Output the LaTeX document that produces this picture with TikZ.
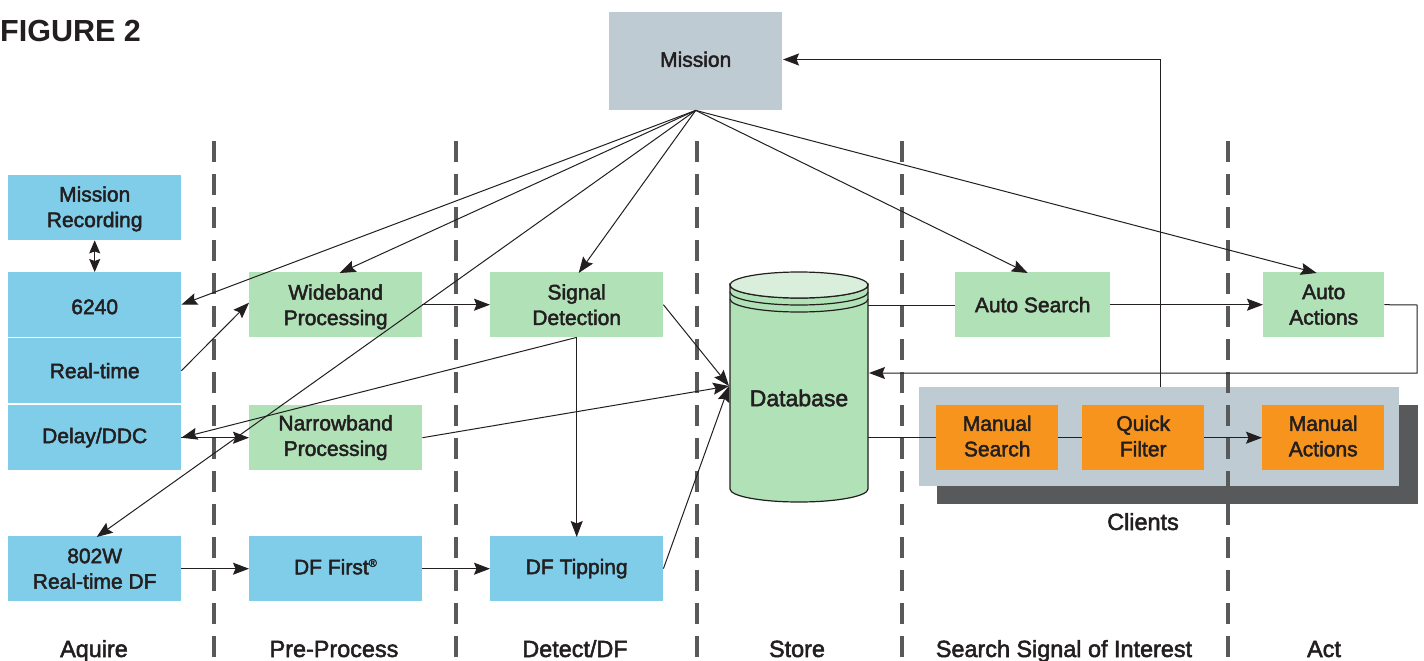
\documentclass[tikz,border=0pt]{standalone}
\usepackage{fontspec}
\setmainfont{Liberation Sans}[RawFeature={embolden=2.2}]
\newfontfamily\headfont{Liberation Sans Bold}
\usetikzlibrary{arrows.meta}
\definecolor{cblue}{HTML}{7FCDE9}
\definecolor{cgreen}{HTML}{B0E1B7}
\definecolor{cgreenl}{HTML}{D9EFDC}
\definecolor{corange}{HTML}{F7941D}
\definecolor{cgrey}{HTML}{BECBD3}
\definecolor{cdark}{HTML}{58595B}
\definecolor{cline}{HTML}{231F20}
\tikzset{
 x=1pt,y=-1pt,
 boxbase/.style={anchor=north west,inner sep=0pt,align=center,font=\fontsize{21}{25.5}\selectfont,text=cline},
 bluebox/.style={boxbase,fill=cblue},
 greenbox/.style={boxbase,fill=cgreen},
 orangebox/.style={boxbase,fill=corange,text depth=3.5pt},
 conn/.style={draw=cline,line width=1pt},
 arr/.style={conn,-{Stealth[length=16pt,width=12pt,inset=2.5pt]}},
 darr/.style={conn,{Stealth[length=13pt,width=11pt,inset=2pt]}-{Stealth[length=13pt,width=11pt,inset=2pt]}},
 divider/.style={draw=cdark,line width=4pt,dash pattern=on 21pt off 12pt},
 lab/.style={font=\fontsize{23.4}{27}\selectfont,text=cline,inner sep=0pt,anchor=base},
}
\begin{document}
\begin{tikzpicture}
\useasboundingbox (0,0) rectangle (1424,661);
\fill[white] (0,0) rectangle (1424,661);
\node[font=\headfont\fontsize{30.5}{33}\selectfont,anchor=west,inner sep=0pt,text=cline] (fig) at (0,31) {FIGURE 2};
% panels
\node[anchor=north west,fill=cdark,minimum width=481pt,minimum height=99pt,inner sep=0pt] (shadow) at (937,405) {};
\node[anchor=north west,fill=cgrey,minimum width=480pt,minimum height=99pt,inner sep=0pt] (panel) at (919,387) {};
% dividers
\foreach \n/\x in {d1/214,d2/456,d3/697,d4/902,d5/1228}{
 \coordinate (\n a) at (\x,141); \coordinate (\n b) at (\x,661);
 \draw[divider] (\n a) -- (\n b);
}
% nodes
\node[boxbase,fill=cgrey,minimum width=173pt,minimum height=98pt,text depth=4pt] (mission) at (609,12) {Mission};
\node[bluebox,minimum width=173pt,minimum height=65pt,text depth=2pt] (mrec) at (8,175) {Mission\\Recording};
\node[bluebox,minimum width=173pt,minimum height=65pt,text height=19pt] (n6240) at (8,272) {6240};
\node[bluebox,minimum width=173pt,minimum height=65pt] (rt) at (8,338) {Real-time};
\node[bluebox,minimum width=173pt,minimum height=65pt] (delay) at (8,405) {Delay/DDC};
\node[bluebox,minimum width=173pt,minimum height=65pt] (w802) at (8,536) {802W\\Real-time DF};
\node[greenbox,minimum width=173pt,minimum height=65pt,text depth=0pt] (wide) at (249,272) {Wideband\\Processing};
\node[greenbox,minimum width=173pt,minimum height=65pt] (narrow) at (249,405) {Narrowband\\Processing};
\node[bluebox,minimum width=173pt,minimum height=65pt,text depth=4pt] (dff) at (249,536) {DF First\textsuperscript{\fontsize{11}{11}\selectfont ®}};
\node[greenbox,minimum width=173pt,minimum height=65pt] (sig) at (490,272) {Signal\\Detection};
\node[bluebox,minimum width=173pt,minimum height=65pt] (dft) at (490,536) {DF Tipping};
\node[greenbox,minimum width=155pt,minimum height=65pt] (asearch) at (955,272) {Auto Search};
\node[greenbox,minimum width=121pt,minimum height=65pt] (aact) at (1263,272) {Auto\\Actions};
\node[orangebox,minimum width=122pt,minimum height=65pt] (msearch) at (936,405) {Manual\\Search};
\node[orangebox,minimum width=122pt,minimum height=65pt] (qf) at (1082,405) {Quick\\Filter};
\node[orangebox,minimum width=122pt,minimum height=65pt] (mact) at (1262,405) {Manual\\Actions};
% database
\path[fill=cgreen,draw=cline,line width=1.2pt] (730,285) -- (730,489) arc[start angle=180,end angle=360,x radius=69pt,y radius=13pt] -- (868,285) arc[start angle=0,end angle=-180,x radius=69pt,y radius=13pt] -- cycle;
\draw[cline,line width=1.2pt] (730,292) arc[start angle=180,end angle=360,x radius=69pt,y radius=13pt];
\draw[cline,line width=1.2pt] (730,299) arc[start angle=180,end angle=360,x radius=69pt,y radius=13pt];
\path[fill=cgreenl,draw=cline,line width=1.2pt] (799,285) ellipse[x radius=69pt,y radius=13pt];
\node[font=\fontsize{23}{27}\selectfont,inner sep=0pt,text=cline] (dbl) at (799,398) {Database};
% labels
\node[lab] (l1) at (94,657) {Aquire};
\node[lab] (l2) at (334,657) {Pre-Process};
\node[lab] (l3) at (575,657) {Detect/DF};
\node[lab] (l4) at (797,657) {Store};
\node[lab] (l5) at (1064,657) {Search Signal of Interest};
\node[lab] (l6) at (1324,657) {Act};
\node[lab] (l7) at (1143,530) {Clients};
% connector ends
\coordinate (mo) at (mission.south);
\coordinate (t6240) at (n6240.east);
\coordinate (twide) at ([xshift=4pt,yshift=-1pt]wide.north);
\coordinate (tsig) at ([xshift=2pt,yshift=-1pt]sig.north);
\coordinate (t802) at ([xshift=2pt,yshift=-1pt]w802.north);
\coordinate (tas) at ([xshift=-5pt,yshift=-1pt]asearch.north);
\coordinate (taa) at ([xshift=-7pt,yshift=-1pt]aact.north);
\draw[arr] (mo) -- (t6240);
\draw[arr] (mo) -- (twide);
\draw[arr] (mo) -- (t802);
\draw[arr] (mo) -- (tsig);
\draw[arr] (mo) -- (tas);
\draw[arr] (mo) -- (taa);
\draw[darr] (mrec.south) -- (n6240.north);
\draw[arr] (rt.east) -- ([yshift=2pt]wide.west);
\draw[arr] (delay.east) -- (narrow.west);
\draw[arr] (sig.south) -- (delay.east);
\draw[arr] (sig.south) -- ([yshift=-1pt]dft.north);
\draw[arr] (wide.east) -- ([yshift=0pt]sig.west);
\coordinate (dbin) at (729,386);
\draw[arr] (sig.east) -- (dbin);
\draw[arr] (narrow.east) -- (dbin);
\draw[arr] (dft.east) -- (dbin);
\draw[arr] (w802.east) -- (dff.west);
\draw[arr] (dff.east) -- (dft.west);
\coordinate (dbs) at (868,305);
\coordinate (dbm) at (868,437);
\draw[conn] (dbs) -- (dbs -| asearch.west);
\draw[arr] (asearch.east) -- (aact.west);
\coordinate (ra) at (1417,305);
\coordinate (rb) at (1417,373);
\coordinate (dbr) at (869,373);
\draw[arr] (aact.east) -- (ra) -- (rb) -- (dbr);
\draw[conn] (dbm) -- (dbm -| msearch.west);
\draw[conn] (msearch.east) -- (qf.west);
\draw[arr] (qf.east) -- (mact.west);
\coordinate (pu) at (1160,387);
\coordinate (pv) at (1160,59.5);
\coordinate (mi) at (783,59.5);
\draw[arr] (pu) -- (pv) -- (mi);
\end{tikzpicture}
\end{document}
